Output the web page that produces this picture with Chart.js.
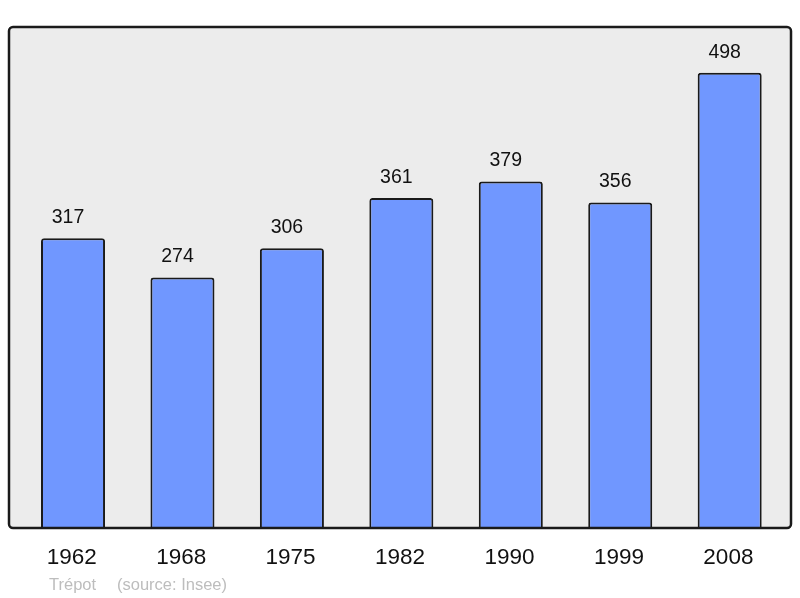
<!DOCTYPE html>
<html><head><meta charset="utf-8">
<script src="https://cdn.jsdelivr.net/npm/chart.js@4"></script>
<style>html,body{margin:0;padding:0;background:#fff}#wrap{width:800px;height:598px;position:relative}</style>
</head><body><div id="wrap"><canvas id="c" width="800" height="598"></canvas></div>
<script>
const years = ["1962","1968","1975","1982","1990","1999","2008"];
const population = [317,274,306,361,379,356,498];
const footerName = "Trépot";
const footerSource = "(source: Insee)";
const FONT = '"Liberation Sans", Arial, sans-serif';

const framePlugin = {
  id: 'frame',
  beforeDatasetsDraw(chart) {
    const ctx = chart.ctx;
    ctx.save();
    ctx.beginPath();
    ctx.roundRect(9, 27, 782, 501, 4);
    ctx.fillStyle = '#ececec';
    ctx.fill();
    ctx.restore();
  },
  afterDatasetsDraw(chart) {
    const ctx = chart.ctx;
    ctx.save();
    ctx.beginPath();
    ctx.roundRect(9, 27, 782, 501, 4);
    ctx.lineWidth = 2.5;
    ctx.strokeStyle = '#1a1a1a';
    ctx.stroke();
    const meta = chart.getDatasetMeta(0);
    const xs = chart.scales.x;
    ctx.fillStyle = '#111';
    ctx.textAlign = 'center';
    ctx.textBaseline = 'middle';
    ctx.font = '19.5px ' + FONT;
    meta.data.forEach((bar, i) => {
      ctx.fillText(String(population[i]), bar.x - 5, bar.y - 20.5);
    });
    ctx.font = '22.5px ' + FONT;
    years.forEach((y, i) => {
      ctx.fillText(y, xs.getPixelForValue(i) - 1.3, 558);
    });
    ctx.textAlign = 'left';
    ctx.fillStyle = '#bdbdbd';
    ctx.font = '16.5px ' + FONT;
    ctx.fillText(footerName, 49, 585.5);
    ctx.fillText(footerSource, 117, 585.5);
    ctx.restore();
  }
};

new Chart(document.getElementById('c'), {
  type: 'bar',
  data: {
    labels: years,
    datasets: [{
      data: population,
      backgroundColor: '#7097ff',
      borderColor: '#1a1a1a',
      borderWidth: 2,
      borderSkipped: 'bottom',
      borderRadius: {topLeft: 3, topRight: 3, bottomLeft: 0, bottomRight: 0},
      categoryPercentage: 1,
      barPercentage: 0.585
    }]
  },
  options: {
    responsive: false,
    animation: false,
    layout: { padding: { left: 18.3, right: 15.6, top: 27, bottom: 70 } },
    plugins: { legend: { display: false }, tooltip: { enabled: false } },
    scales: {
      x: { display: false },
      y: { display: false, min: 0, max: 548 }
    }
  },
  plugins: [framePlugin]
});
</script></body></html>
